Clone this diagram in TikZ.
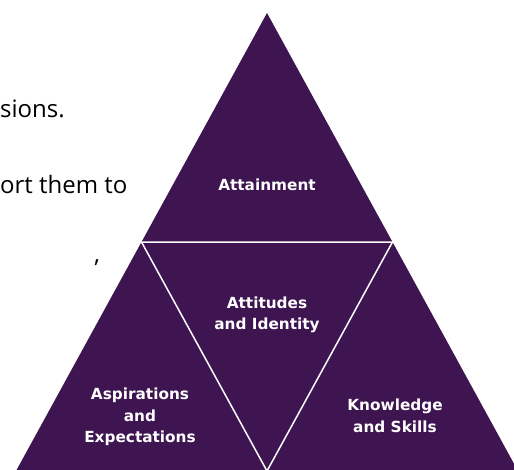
\documentclass[tikz,border=0pt]{standalone}
\usepackage{fontspec}
\setmainfont{Open Sans}
\newfontfamily\partfont{DejaVu Sans}
\usetikzlibrary{positioning,calc}
\definecolor{plum}{HTML}{3E1451}

\begin{document}
\begin{tikzpicture}[x=1pt,y=-1pt,
	part/.style={text=white,align=center,%
		font=\partfont\bfseries\fontsize{15.3}{21.5}\selectfont},
	side/.style={anchor=base west,inner sep=0pt,%
		font=\fontsize{24}{28}\selectfont}]
	\useasboundingbox (0,0) rectangle (514,469);
	\clip (0,0) rectangle (514,469);
	% outer triangle and the midpoints of its sides
	\coordinate (top) at (267,13);
	\coordinate (bl) at (16,471);
	\coordinate (br) at (518,471);
	\coordinate (ml) at ($(top)!.5!(bl)$);
	\coordinate (mr) at ($(top)!.5!(br)$);
	\coordinate (mb) at ($(bl)!.5!(br)$);
	\fill[plum] (top) -- (bl) -- (br) -- cycle;
	\draw[white,line width=1.5pt] (ml) -- (mr) -- (mb) -- cycle;
	% labels of the four parts
	\node[part] (att) at (267,185) {Attainment};
	\node[part] (idn) at (267,315) {Attitudes\\and Identity};
	\node[part] (asp) at (140,417) {Aspirations\\and\\Expectations};
	\node[part] (kno) at (395,416) {Knowledge\\and Skills};
	% text running in from the left
	\node[side] (t1) at (0,117) {sions.};
	\node[side] (t2) at (0,193) {ort them to};
	\node[side] (t3) at (94,262) {,};
\end{tikzpicture}
\end{document}
